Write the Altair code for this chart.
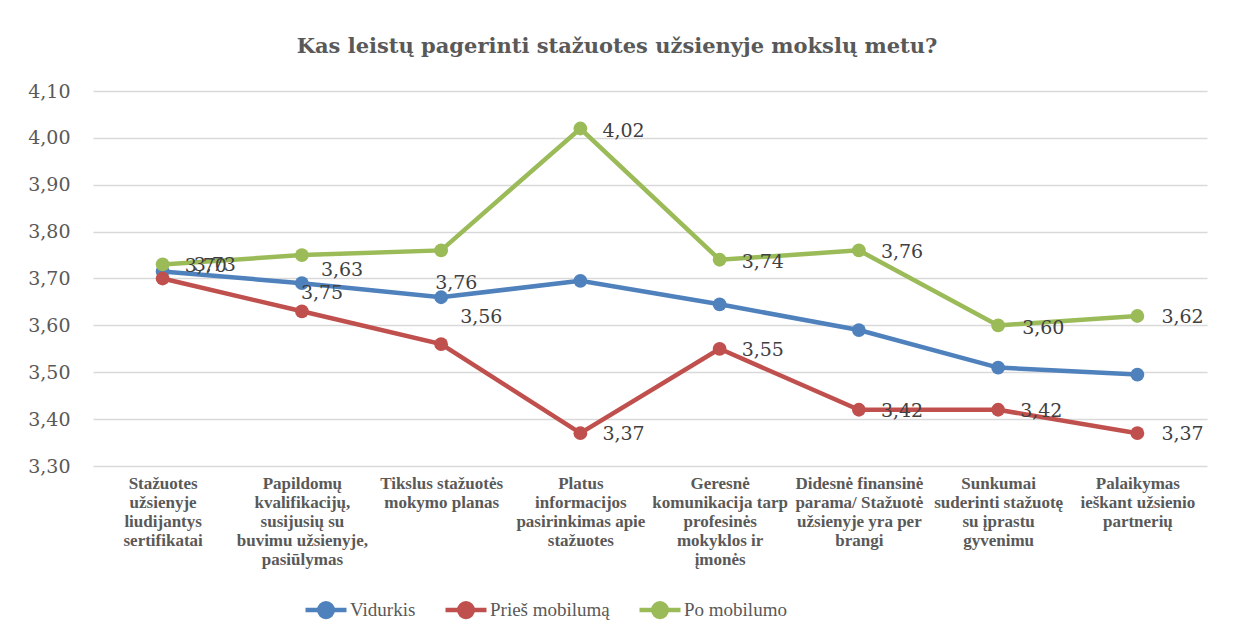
import altair as alt
import pandas as pd

categories = [
    "Stažuotes|užsienyje|liudijantys|sertifikatai",
    "Papildomų|kvalifikacijų,|susijusių su|buvimu užsienyje,|pasiūlymas",
    "Tikslus stažuotės|mokymo planas",
    "Platus|informacijos|pasirinkimas apie|stažuotes",
    "Geresnė|komunikacija tarp|profesinės|mokyklos ir|įmonės",
    "Didesnė finansinė|parama/ Stažuotė|užsienyje yra per|brangi",
    "Sunkumai|suderinti stažuotę|su įprastu|gyvenimu",
    "Palaikymas|ieškant užsienio|partnerių",
]
series_names = ["Vidurkis", "Prieš mobilumą", "Po mobilumo"]
vidurkis = [3.715, 3.69, 3.66, 3.695, 3.645, 3.59, 3.51, 3.495]
pries = [3.70, 3.63, 3.56, 3.37, 3.55, 3.42, 3.42, 3.37]
po = [3.73, 3.75, 3.76, 4.02, 3.74, 3.76, 3.60, 3.62]
y_ticks = [3.3, 3.4, 3.5, 3.6, 3.7, 3.8, 3.9, 4.0, 4.1]
colors = ["#4f81bd", "#c0504d", "#9bbb59"]

# label offsets (style only): per series, per category (dx, dy) in px
label_offsets = {
    "Prieš mobilumą": [(22, -13), (19, -41), (19, -27), (22, 1), (22, 1), (22, 1), (22, 1), (24, 1)],
    "Po mobilumo": [(31, 1), (-1, 38), (-6, 33), (22, 2), (22, 2), (22, 2), (24, 3), (24, 1)],
}

rows = []
for name, vals in zip(series_names, [vidurkis, pries, po]):
    for c, v in zip(categories, vals):
        rows.append({"cat": c, "series": name, "value": v,
                     "txt": f"{v:.2f}".replace(".", ",")})
df = pd.DataFrame(rows)

FONT = "Liberation Serif"
NUMFONT = "DejaVu Serif"
TXT = "#595959"

x = alt.X("cat:N", sort=categories, title=None,
          scale=alt.Scale(type="point", padding=0.5),
          axis=alt.Axis(labelExpr="split(datum.label, '|')", labelAngle=0,
                        labelFont=FONT, labelFontSize=17, labelFontWeight="bold",
                        labelColor=TXT, labelLineHeight=19, labelPadding=9,
                        labelBaseline="top", labelLimit=200,
                        domain=False, ticks=False, grid=False))
y = alt.Y("value:Q", title=None,
          scale=alt.Scale(domain=[3.3, 4.1], nice=False, zero=False),
          axis=alt.Axis(values=y_ticks,
                        labelExpr="replace(format(datum.value, '.2f'), '.', ',')",
                        labelFont=NUMFONT, labelFontSize=19, labelColor=TXT,
                        labelPadding=23, domain=False, ticks=False,
                        grid=True, gridColor="#d9d9d9", gridWidth=1.5))
color = alt.Color("series:N", sort=series_names,
                  scale=alt.Scale(domain=series_names, range=colors),
                  legend=alt.Legend(title=None, orient="none", direction="horizontal",
                                    legendX=210, legendY=496,
                                    labelFont=FONT, labelFontSize=19, labelColor=TXT,
                                    symbolType="M -1 0 L 1 0 M -0.33 0 A 0.33 0.33 0 1 1 0.33 0 A 0.33 0.33 0 1 1 -0.33 0 Z",
                                    symbolSize=1681, symbolStrokeWidth=4.5,
                                    labelOffset=1, columnPadding=20))

base = alt.Chart(df)
lines = base.mark_line(strokeWidth=4.5).encode(x=x, y=y, color=color)
points = base.mark_point(filled=True, size=190, opacity=1).encode(x=x, y=y, color=color)

layers = [lines, points]
for name, offs in label_offsets.items():
    for c, (dx, dy) in zip(categories, offs):
        sub = df[(df.series == name) & (df.cat == c)]
        layers.append(
            alt.Chart(sub).mark_text(align="left", baseline="middle", dx=dx, dy=dy,
                                     font=NUMFONT, fontSize=19, color="#404040")
            .encode(x=alt.X("cat:N", sort=categories, scale=alt.Scale(type="point", padding=0.5)),
                    y=alt.Y("value:Q"), text="txt:N")
        )

chart = alt.layer(*layers).properties(
    width=1114, height=375,
    title=alt.TitleParams("Kas leistų pagerinti stažuotes užsienyje mokslų metu?",
                          font=NUMFONT, fontSize=21, fontWeight="bold", color=TXT,
                          anchor="middle", dx=-33, offset=25),
    autosize=alt.AutoSizeParams(type="none"),
    padding={"left": 85, "top": 83, "right": 15, "bottom": 170},
).configure_view(stroke=None)

chart.save("out.html", embed_options={"renderer": "svg", "actions": False})
